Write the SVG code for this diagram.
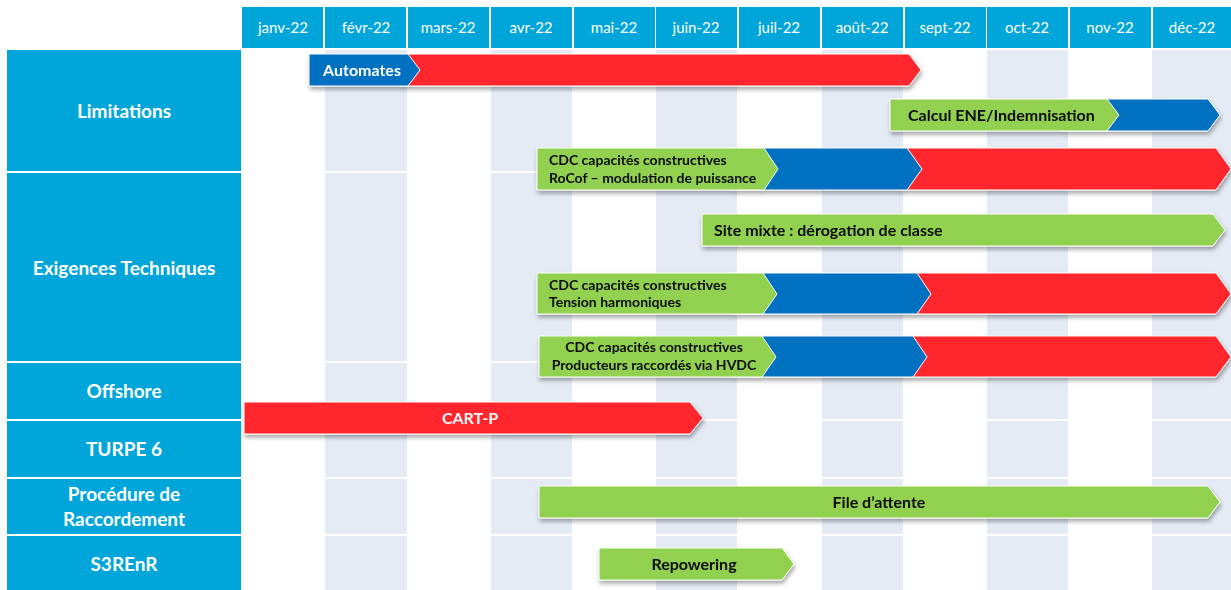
<svg xmlns="http://www.w3.org/2000/svg" width="1231" height="590" viewBox="0 0 1231 590">
<defs>
<style>
.hdr{fill:#00A6DA}
.hdrt{font-family:Lato,"Liberation Sans",sans-serif;font-size:15px;fill:#fff;text-anchor:middle}
.lbl{fill:#00A6DA}
.lblt{font-family:Lato,"Liberation Sans",sans-serif;font-size:19px;font-weight:bold;fill:#fff;text-anchor:middle}
.shade{fill:#E4EBF5}
.red{fill:#FF282D;stroke:#fff;stroke-width:1}
.blue{fill:#0070C0;stroke:#fff;stroke-width:1}
.green{fill:#92D050;stroke:#fff;stroke-width:1}
.bt{font-family:Lato,"Liberation Sans",sans-serif;font-size:16px;font-weight:bold;fill:#0a0a0a}
.bw{font-family:Lato,"Liberation Sans",sans-serif;font-size:16px;font-weight:bold;fill:#fff}
.bs{font-family:Lato,"Liberation Sans",sans-serif;font-size:14px;font-weight:bold;fill:#0a0a0a}
</style>
<filter id="sh" x="-5%" y="-30%" width="110%" height="170%">
<feDropShadow dx="1" dy="3" stdDeviation="2" flood-color="#000" flood-opacity="0.35"/>
</filter>
</defs>
<rect width="1231" height="590" fill="#fff"/>
<g id="grid">
<rect class="shade" x="325" y="50" width="82" height="121"/><rect class="shade" x="325" y="173" width="82" height="188"/><rect class="shade" x="325" y="363" width="82" height="56"/><rect class="shade" x="325" y="421" width="82" height="56"/><rect class="shade" x="325" y="479" width="82" height="55"/><rect class="shade" x="325" y="536" width="82" height="54"/>
<rect class="shade" x="491" y="50" width="81" height="121"/><rect class="shade" x="491" y="173" width="81" height="188"/><rect class="shade" x="491" y="363" width="81" height="56"/><rect class="shade" x="491" y="421" width="81" height="56"/><rect class="shade" x="491" y="479" width="81" height="55"/><rect class="shade" x="491" y="536" width="81" height="54"/>
<rect class="shade" x="656" y="50" width="81" height="121"/><rect class="shade" x="656" y="173" width="81" height="188"/><rect class="shade" x="656" y="363" width="81" height="56"/><rect class="shade" x="656" y="421" width="81" height="56"/><rect class="shade" x="656" y="479" width="81" height="55"/><rect class="shade" x="656" y="536" width="81" height="54"/>
<rect class="shade" x="822" y="50" width="81" height="121"/><rect class="shade" x="822" y="173" width="81" height="188"/><rect class="shade" x="822" y="363" width="81" height="56"/><rect class="shade" x="822" y="421" width="81" height="56"/><rect class="shade" x="822" y="479" width="81" height="55"/><rect class="shade" x="822" y="536" width="81" height="54"/>
<rect class="shade" x="987" y="50" width="81" height="121"/><rect class="shade" x="987" y="173" width="81" height="188"/><rect class="shade" x="987" y="363" width="81" height="56"/><rect class="shade" x="987" y="421" width="81" height="56"/><rect class="shade" x="987" y="479" width="81" height="55"/><rect class="shade" x="987" y="536" width="81" height="54"/>
<rect class="shade" x="1152" y="50" width="79" height="121"/><rect class="shade" x="1152" y="173" width="79" height="188"/><rect class="shade" x="1152" y="363" width="79" height="56"/><rect class="shade" x="1152" y="421" width="79" height="56"/><rect class="shade" x="1152" y="479" width="79" height="55"/><rect class="shade" x="1152" y="536" width="79" height="54"/>
</g>
<g id="header">
<rect class="hdr" x="242" y="7" width="81" height="41"/><text class="hdrt" x="283" y="33">janv-22</text>
<rect class="hdr" x="325" y="7" width="81" height="41"/><text class="hdrt" x="366" y="33">févr-22</text>
<rect class="hdr" x="408" y="7" width="81" height="41"/><text class="hdrt" x="448" y="33">mars-22</text>
<rect class="hdr" x="491" y="7" width="81" height="41"/><text class="hdrt" x="531" y="33">avr-22</text>
<rect class="hdr" x="574" y="7" width="81" height="41"/><text class="hdrt" x="614" y="33">mai-22</text>
<rect class="hdr" x="656" y="7" width="81" height="41"/><text class="hdrt" x="696" y="33">juin-22</text>
<rect class="hdr" x="739" y="7" width="81" height="41"/><text class="hdrt" x="779" y="33">juil-22</text>
<rect class="hdr" x="822" y="7" width="81" height="41"/><text class="hdrt" x="862" y="33">août-22</text>
<rect class="hdr" x="905" y="7" width="81" height="41"/><text class="hdrt" x="945" y="33">sept-22</text>
<rect class="hdr" x="987" y="7" width="81" height="41"/><text class="hdrt" x="1027" y="33">oct-22</text>
<rect class="hdr" x="1070" y="7" width="81" height="41"/><text class="hdrt" x="1110" y="33">nov-22</text>
<rect class="hdr" x="1153" y="7" width="78" height="41"/><text class="hdrt" x="1192" y="33">déc-22</text>
</g>
<g id="row-limitations"><rect class="lbl" x="7" y="50" width="234" height="121"/><text class="lblt" x="124" y="118">Limitations</text></g>
<g id="row-exigences"><rect class="lbl" x="7" y="173" width="234" height="188"/><text class="lblt" x="124" y="275">Exigences Techniques</text></g>
<g id="row-offshore"><rect class="lbl" x="7" y="363" width="234" height="56"/><text class="lblt" x="124" y="398">Offshore</text></g>
<g id="row-turpe"><rect class="lbl" x="7" y="421" width="234" height="56"/><text class="lblt" x="124" y="456">TURPE 6</text></g>
<g id="row-procedure"><rect class="lbl" x="7" y="479" width="234" height="55"/><text class="lblt" x="124" y="501">Procédure de</text><text class="lblt" x="124" y="526">Raccordement</text></g>
<g id="row-s3renr"><rect class="lbl" x="7" y="536" width="234" height="54"/><text class="lblt" x="124" y="571">S3REnR</text></g>
<g id="connectors"/>
<g id="bar-automates" filter="url(#sh)">
<polygon class="red" points="400,54 909,54 921,70 909,86 400,86"/>
<polygon class="blue" points="309,54 408,54 420,70 408,86 309,86"/>
<text class="bw" x="362" y="76" text-anchor="middle">Automates</text>
</g>
<g id="bar-calcul" filter="url(#sh)">
<polygon class="blue" points="1060,99 1208,99 1220,115 1208,131 1060,131"/>
<polygon class="green" points="890,99 1107,99 1119,115 1107,131 890,131"/>
<text class="bt" x="908" y="121">Calcul ENE/Indemnisation</text>
</g>
<g id="bar-rocof" filter="url(#sh)">
<polygon class="red" points="900,148 1216,148 1231,169 1216,190 900,190"/>
<polygon class="blue" points="730,148 907,148 922,169 907,190 730,190"/>
<polygon class="green" points="537,148 764,148 778,169 764,190 537,190"/>
<text class="bs" x="549" y="165">CDC capacités constructives</text>
<text class="bs" x="549" y="183">RoCof – modulation de puissance</text>
</g>
<g id="bar-site-mixte" filter="url(#sh)">
<polygon class="green" points="702,214 1213,214 1225,230 1213,246 702,246"/>
<text class="bt" x="714" y="236">Site mixte : dérogation de classe</text>
</g>
<g id="bar-tension" filter="url(#sh)">
<polygon class="red" points="910,273 1216,273 1231,294 1216,314 910,314"/>
<polygon class="blue" points="730,273 917,273 931,294 917,314 730,314"/>
<polygon class="green" points="537,273 763,273 777,294 763,314 537,314"/>
<text class="bs" x="549" y="290">CDC capacités constructives</text>
<text class="bs" x="549" y="307">Tension harmoniques</text>
</g>
<g id="bar-hvdc" filter="url(#sh)">
<polygon class="red" points="905,336 1216,336 1231,357 1216,377 905,377"/>
<polygon class="blue" points="730,336 913,336 927,357 913,377 730,377"/>
<polygon class="green" points="539,336 762,336 776,357 762,377 539,377"/>
<text class="bs" x="654" y="352" text-anchor="middle">CDC capacités constructives</text>
<text class="bs" x="654" y="370" text-anchor="middle">Producteurs raccordés via  HVDC</text>
</g>
<g id="bar-cartp" filter="url(#sh)">
<polygon class="red" points="244,402 690,402 703,418 690,434 244,434"/>
<text class="bw" x="470" y="424" text-anchor="middle">CART-P</text>
</g>
<g id="bar-file" filter="url(#sh)">
<polygon class="green" points="539,486 1208,486 1220,502 1208,518 539,518"/>
<text class="bt" x="879" y="508" text-anchor="middle">File d’attente</text>
</g>
<g id="bar-repowering" filter="url(#sh)">
<polygon class="green" points="599,548 782,548 794,564 782,580 599,580"/>
<text class="bt" x="694" y="570" text-anchor="middle">Repowering</text>
</g>
</svg>
